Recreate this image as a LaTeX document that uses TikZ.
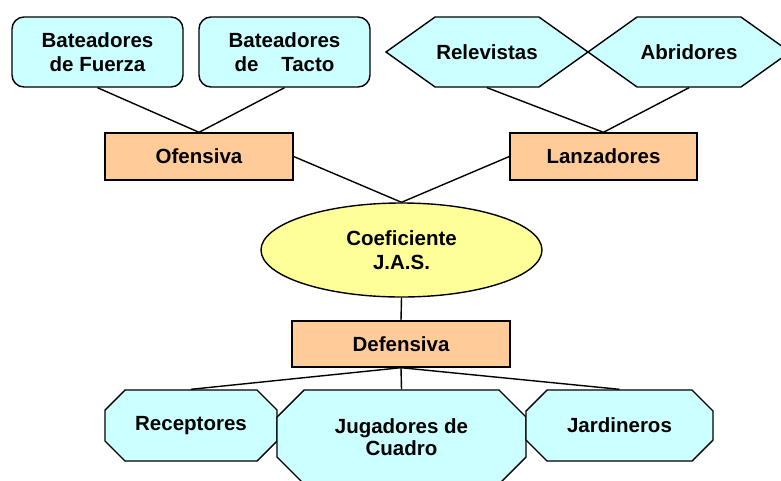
\documentclass[tikz,border=0pt]{standalone}
\usepackage{fontspec}
\setmainfont{Liberation Sans}
\usetikzlibrary{shapes.geometric,shapes.symbols}
\definecolor{sCyan}{HTML}{CCFFFF}
\definecolor{sOrange}{HTML}{FFCC99}
\definecolor{sYellow}{HTML}{FFFF99}

\begin{document}
\begin{tikzpicture}[x=1pt,y=-1pt]
		\tikzstyle{BASE} = [draw=black, line width=1.4pt, inner sep=0pt, align=center, font=\fontsize{20.5}{24}\selectfont\bfseries]
		\tikzstyle{bateo} = [BASE, fill=sCyan, rounded corners=12pt, minimum width=171pt, minimum height=70pt]
		\tikzstyle{lanza} = [BASE, fill=sCyan, signal, signal to=west and east, signal pointer angle=71, minimum width=202pt, minimum height=70pt]
		\tikzstyle{grupo} = [BASE, fill=sOrange, minimum height=47pt]
		\tikzstyle{campo} = [draw=black, line width=1.4pt, fill=sCyan]
		\tikzstyle{campoText} = [BASE, draw=none]
		\tikzstyle{coef} = [BASE, fill=sYellow, ellipse, minimum width=281pt, minimum height=94pt]
		\tikzstyle{LINK} = [line width=1.4pt]

		\useasboundingbox (0,0) rectangle (781,480);

		\node[bateo] (bFuerza) at (97.5,52)	{Bateadores\\de Fuerza};
		\node[bateo] (bTacto) at (284.5,52)	{Bateadores\\de~~~~Tacto};
		\node[lanza] (lReleva) at (487,52)	{Relevistas};
		\node[lanza] (lAbre) at (689,52)	{Abridores};

		\node[grupo, minimum width=188pt] (gOfensa) at (199,156.5)	{Ofensiva};
		\node[grupo, minimum width=187pt] (gLanza) at (603.5,156.5)	{Lanzadores};
		\node[coef] (cJAS) at (401.5,250)	{Coeficiente\\J.A.S.};
		\node[grupo, minimum width=218pt, minimum height=46pt] (gDefensa) at (401,344)	{Defensiva};

		% octagons: center x / center y / width / height / chamfer
		\foreach \cx/\cy/\w/\h/\c in {191/425.5/172/71/20, 401.5/437/249/94/27, 619.5/425.5/187/71/21}
			\draw[campo] (\cx-\w/2+\c, \cy-\h/2) -- (\cx+\w/2-\c, \cy-\h/2) -- (\cx+\w/2, \cy-\h/2+\c)
				-- (\cx+\w/2, \cy+\h/2-\c) -- (\cx+\w/2-\c, \cy+\h/2) -- (\cx-\w/2+\c, \cy+\h/2)
				-- (\cx-\w/2, \cy+\h/2-\c) -- (\cx-\w/2, \cy-\h/2+\c) -- cycle;

		\node[campoText, minimum width=172pt, minimum height=71pt] (fRecep) at (191,425.5)	{Receptores};
		\node[campoText, minimum width=249pt, minimum height=94pt, font=\fontsize{20.5}{22.5}\selectfont\bfseries] (fCuadro) at (401.5,437)	{Jugadores de\\Cuadro};
		\node[campoText, minimum width=187pt, minimum height=71pt] (fJardin) at (619.5,425.5)	{Jardineros};

		\draw[LINK] (bFuerza.south) -- (gOfensa.north);
		\draw[LINK] (bTacto.south) -- (gOfensa.north);
		\draw[LINK] (lReleva.south) -- (gLanza.north);
		\draw[LINK] (lAbre.south) -- (gLanza.north);
		\draw[LINK] (gOfensa.east) -- (cJAS.north);
		\draw[LINK] (gLanza.west) -- (cJAS.north);
		\draw[LINK] (cJAS.south) -- (gDefensa.north);
		\draw[LINK] (gDefensa.south) -- (fRecep.north);
		\draw[LINK] (gDefensa.south) -- (fCuadro.north);
		\draw[LINK] (gDefensa.south) -- (fJardin.north);
\end{tikzpicture}
\end{document}
